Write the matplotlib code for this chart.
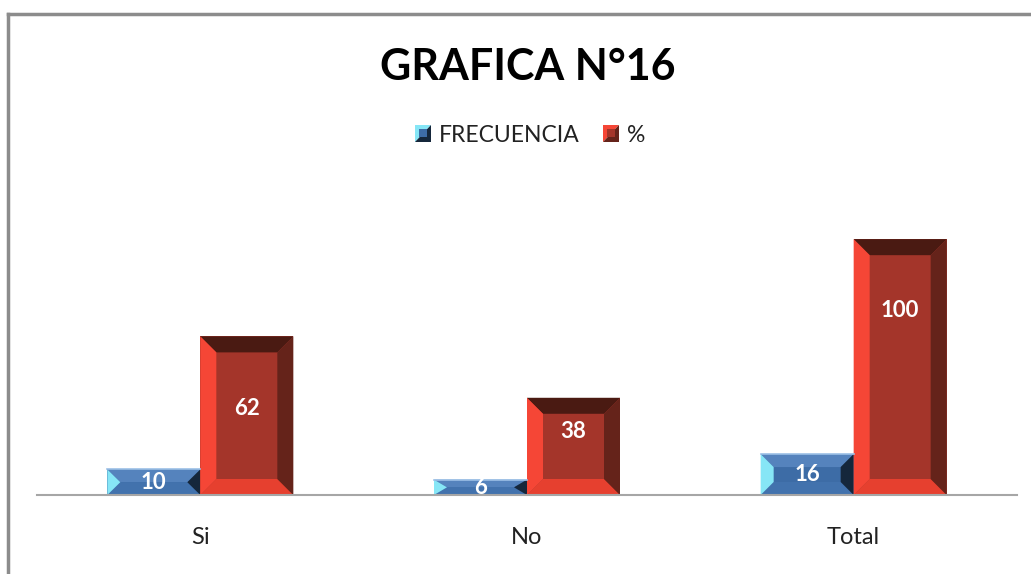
import matplotlib
matplotlib.use("Agg")
import matplotlib.pyplot as plt
from matplotlib.patches import Polygon, Rectangle
from matplotlib.legend_handler import HandlerBase
from matplotlib.lines import Line2D

plt.rcParams['font.family'] = ['Lato', 'DejaVu Sans']

categories = ['Si', 'No', 'Total']
frecuencia = [10, 6, 16]
porcentaje = [62, 38, 100]
series_names = ['FRECUENCIA', '%']
title = 'GRAFICA N°16'

# bevel colours: face, top, bottom, left, right
blue = {'face': '#3d6ca6', 'top': '#5583bd', 'bottom': '#4272ad',
        'left': '#86e6f6', 'right': '#15273b'}
red = {'face': '#a4352a', 'top': '#4a1a12', 'bottom': '#e6402f',
       'left': '#f54636', 'right': '#65231a'}

fig = plt.figure(figsize=(10.31, 5.74), dpi=100)
ax = fig.add_axes([37 / 1031, 79 / 574, 980 / 1031, 307 / 574])
ax.set_xlim(-0.5, 2.5)
ax.set_ylim(0, 120)

px_x = 980 / 3.0     # pixels per x unit
px_y = 307 / 120.0   # pixels per y unit
bar_w = 93 / px_x


def bevel_bar(ax, x0, h, c, bev=16):
    x1 = x0 + bar_w
    bx = bev / px_x
    by = min(bev / px_y, h / 2.0)
    ax.add_patch(Rectangle((x0, 0), bar_w, h, facecolor=c['face'], lw=0))
    ax.add_patch(Polygon([(x0, h), (x1, h), (x1 - bx, h - by), (x0 + bx, h - by)],
                         facecolor=c['top'], lw=0))
    ax.add_patch(Polygon([(x0, 0), (x1, 0), (x1 - bx, by), (x0 + bx, by)],
                         facecolor=c['bottom'], lw=0))
    ax.add_patch(Polygon([(x0, 0), (x0 + bx, by), (x0 + bx, h - by), (x0, h)],
                         facecolor=c['left'], lw=0))
    ax.add_patch(Polygon([(x1, 0), (x1 - bx, by), (x1 - bx, h - by), (x1, h)],
                         facecolor=c['right'], lw=0))


for i, cat in enumerate(categories):
    xb = i - bar_w
    xr = i
    bevel_bar(ax, xb, frecuencia[i], blue, bev=13)
    ax.plot([xb, xb + bar_w], [frecuencia[i], frecuencia[i]], color='#9cc0e6', lw=1.2)
    bevel_bar(ax, xr, porcentaje[i], red, bev=16)
    ax.text(xb + bar_w / 2, frecuencia[i] / 2, str(frecuencia[i]), color='white',
            fontsize=16, fontweight='bold', ha='center', va='center', clip_on=True)
    ly = max(porcentaje[i] - 28, 25)
    ax.text(xr + bar_w / 2, ly, str(porcentaje[i]), color='white',
            fontsize=16, fontweight='bold', ha='center', va='center')

ax.set_xticks(range(len(categories)))
ax.set_xticklabels(categories, fontsize=17, color='#222222')
ax.tick_params(axis='x', length=0, pad=23)
ax.set_yticks([])
for s in ['top', 'right', 'left']:
    ax.spines[s].set_visible(False)
ax.spines['bottom'].set_color('#a6a6a6')
ax.spines['bottom'].set_linewidth(1.5)


class BevelHandler(HandlerBase):
    def __init__(self, c):
        super().__init__()
        self.c = c

    def create_artists(self, legend, orig_handle, xd, yd, w, h, fontsize, trans):
        s = h
        x0 = xd + w - s
        a = Polygon([(x0, yd), (x0, yd + s), (x0 + s, yd + s)], facecolor=self.c['left'],
                    lw=0, transform=trans)
        b = Polygon([(x0, yd), (x0 + s, yd), (x0 + s, yd + s)], facecolor=self.c['right'],
                    lw=0, transform=trans)
        m = Polygon([(x0 + s * 0.25, yd + s * 0.25), (x0 + s * 0.75, yd + s * 0.25),
                     (x0 + s * 0.75, yd + s * 0.75), (x0 + s * 0.25, yd + s * 0.75)],
                    facecolor=self.c['face'], lw=0, transform=trans)
        return [a, b, m]


h1 = Rectangle((0, 0), 1, 1)
h2 = Rectangle((0, 0), 1.0, 1)
leg = fig.legend([h1, h2], series_names, loc='center', bbox_to_anchor=(530 / 1031, 1 - 135 / 574),
                 ncol=2, frameon=False, fontsize=16.5, handlelength=0.7, handleheight=0.7,
                 handletextpad=0.35, columnspacing=1.0,
                 handler_map={h1: BevelHandler(blue), h2: BevelHandler(red)})
for t in leg.get_texts():
    t.set_color('#222222')

fig.text(528 / 1031, 1 - 67 / 574, title, ha='center', va='center', fontsize=31,
         fontweight='bold', color='black')

# outer chart frame
fig.add_artist(Line2D([8 / 1031, 1.0], [1 - 14 / 574, 1 - 14 / 574], color='#8c8c8c',
                      lw=2.5, transform=fig.transFigure))
fig.add_artist(Line2D([8 / 1031, 8 / 1031], [0, 1 - 14 / 574], color='#8c8c8c',
                      lw=2.5, transform=fig.transFigure))

fig.savefig('out.png', dpi=100, facecolor='white')
